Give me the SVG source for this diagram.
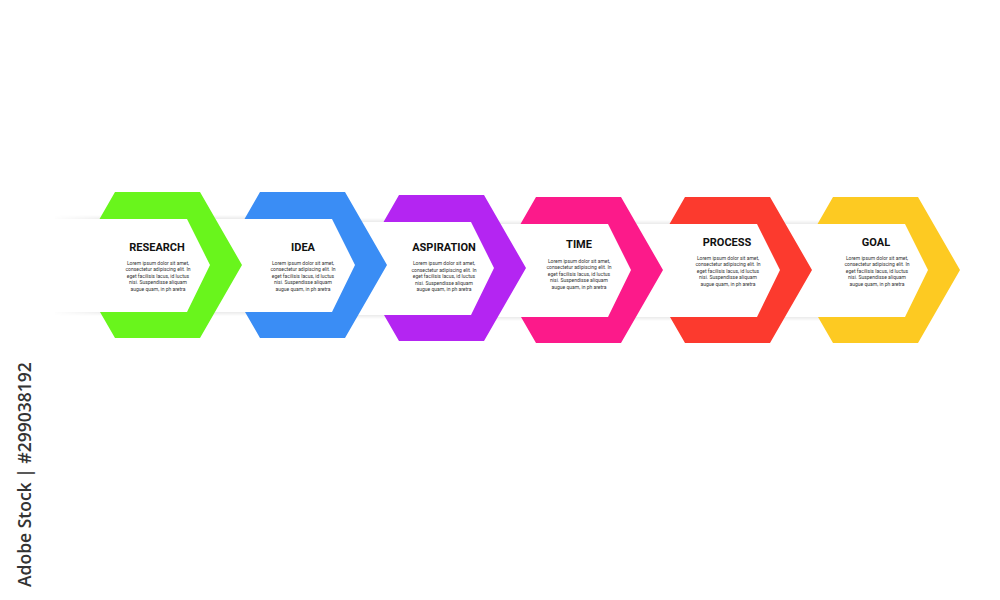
<svg xmlns="http://www.w3.org/2000/svg" width="1000" height="600" viewBox="0 0 1000 600">
<style>
.t{font-family:Roboto,"Liberation Sans",sans-serif;font-weight:700;font-size:11px;fill:#111;text-anchor:middle}
.b{font-family:Roboto,"Liberation Sans",sans-serif;font-size:5px;fill:#333;text-anchor:middle}
.wm{font-family:"Open Sans","Liberation Sans",sans-serif;font-weight:600;font-size:17.5px;fill:#333}
</style>
<defs>
<linearGradient id="shT" x1="0" y1="0" x2="0" y2="1"><stop offset="0" stop-color="#000" stop-opacity="0"/><stop offset="1" stop-color="#000" stop-opacity="0.08"/></linearGradient>
<linearGradient id="shB" x1="0" y1="0" x2="0" y2="1"><stop offset="0" stop-color="#000" stop-opacity="0.08"/><stop offset="1" stop-color="#000" stop-opacity="0"/></linearGradient>
<linearGradient id="fade" x1="50" y1="0" x2="110" y2="0" gradientUnits="userSpaceOnUse"><stop offset="0" stop-color="#000"/><stop offset="1" stop-color="#fff"/></linearGradient>
<mask id="m"><rect x="0" y="0" width="1000" height="600" fill="url(#fade)"/></mask>
</defs>
<rect width="1000" height="600" fill="#fff"/>
<g id="connectors" mask="url(#m)">
<rect x="55" y="215" width="145" height="4" fill="url(#shT)"/><rect x="55" y="312" width="145" height="4" fill="url(#shB)"/>
<rect x="210" y="215" width="135" height="4" fill="url(#shT)"/><rect x="210" y="312" width="135" height="4" fill="url(#shB)"/>
<rect x="355" y="218" width="129" height="4" fill="url(#shT)"/><rect x="355" y="315" width="129" height="4" fill="url(#shB)"/>
<rect x="494" y="220" width="127" height="4" fill="url(#shT)"/><rect x="494" y="317" width="127" height="4" fill="url(#shB)"/>
<rect x="631" y="220" width="139" height="4" fill="url(#shT)"/><rect x="631" y="317" width="139" height="4" fill="url(#shB)"/>
<rect x="780" y="220" width="138" height="4" fill="url(#shT)"/><rect x="780" y="317" width="138" height="4" fill="url(#shB)"/>
</g>
<g id="research">
<polygon fill="#69F51C" points="115,192 200,192 242,265 200,338 115,338 100,312 187,312 210,265 187,219 99.5,219"/>
<text class="t" x="157" y="251">RESEARCH</text>
<text class="b" x="158" y="264.5">Lorem ipsum dolor sit amet,<tspan x="158" dy="6.6">consectetur adipiscing elit. In</tspan><tspan x="158" dy="6.6">eget facilisis lacus, id luctus</tspan><tspan x="158" dy="6.6">nisi. Suspendisse aliquam</tspan><tspan x="158" dy="6.6">augue quam, in ph aretra</tspan></text>
</g>
<g id="idea">
<polygon fill="#3A8DF5" points="260,192 345,192 387,265 345,338 260,338 245,312 332,312 355,265 332,219 244.5,219"/>
<text class="t" x="303" y="251">IDEA</text>
<text class="b" x="303" y="264.5">Lorem ipsum dolor sit amet,<tspan x="303" dy="6.6">consectetur adipiscing elit. In</tspan><tspan x="303" dy="6.6">eget facilisis lacus, id luctus</tspan><tspan x="303" dy="6.6">nisi. Suspendisse aliquam</tspan><tspan x="303" dy="6.6">augue quam, in ph aretra</tspan></text>
</g>
<g id="aspiration">
<polygon fill="#B425F2" points="399,195 484,195 526,268 484,341 399,341 384,315 471,315 494,268 471,222 383.5,222"/>
<text class="t" x="444" y="251">ASPIRATION</text>
<text class="b" x="444" y="265">Lorem ipsum dolor sit amet,<tspan x="444" dy="6.6">consectetur adipiscing elit. In</tspan><tspan x="444" dy="6.6">eget facilisis lacus, id luctus</tspan><tspan x="444" dy="6.6">nisi. Suspendisse aliquam</tspan><tspan x="444" dy="6.6">augue quam, in ph aretra</tspan></text>
</g>
<g id="time">
<polygon fill="#FC1A8A" points="536,197 621,197 663,270 621,343 536,343 521,317 608,317 631,270 608,224 520.5,224"/>
<text class="t" x="579" y="248">TIME</text>
<text class="b" x="579" y="262.5">Lorem ipsum dolor sit amet,<tspan x="579" dy="6.6">consectetur adipiscing elit. In</tspan><tspan x="579" dy="6.6">eget facilisis lacus, id luctus</tspan><tspan x="579" dy="6.6">nisi. Suspendisse aliquam</tspan><tspan x="579" dy="6.6">augue quam, in ph aretra</tspan></text>
</g>
<g id="process">
<polygon fill="#FC3A2E" points="685,197 770,197 812,270 770,343 685,343 670,317 757,317 780,270 757,224 669.5,224"/>
<text class="t" x="727" y="246">PROCESS</text>
<text class="b" x="728" y="259.5">Lorem ipsum dolor sit amet,<tspan x="728" dy="6.6">consectetur adipiscing elit. In</tspan><tspan x="728" dy="6.6">eget facilisis lacus, id luctus</tspan><tspan x="728" dy="6.6">nisi. Suspendisse aliquam</tspan><tspan x="728" dy="6.6">augue quam, in ph aretra</tspan></text>
</g>
<g id="goal">
<polygon fill="#FDCA22" points="833,197 918,197 960,270 918,343 833,343 818,317 905,317 928,270 905,224 817.5,224"/>
<text class="t" x="876" y="246">GOAL</text>
<text class="b" x="877" y="259.5">Lorem ipsum dolor sit amet,<tspan x="877" dy="6.6">consectetur adipiscing elit. In</tspan><tspan x="877" dy="6.6">eget facilisis lacus, id luctus</tspan><tspan x="877" dy="6.6">nisi. Suspendisse aliquam</tspan><tspan x="877" dy="6.6">augue quam, in ph aretra</tspan></text>
</g>
<text class="wm" transform="translate(31,587) rotate(-90)">Adobe Stock | #299038192</text>
</svg>
